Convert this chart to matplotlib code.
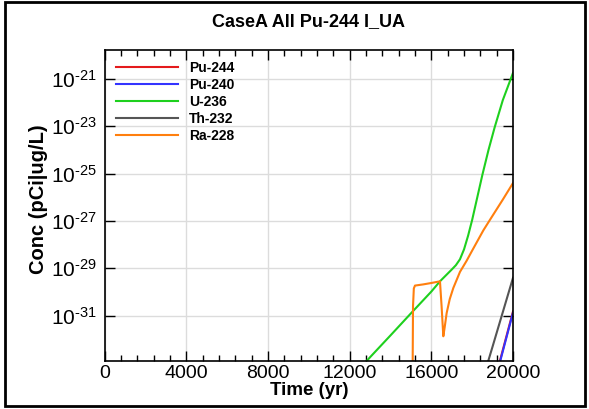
import math
import matplotlib
matplotlib.use('Agg')
import matplotlib.pyplot as plt
from matplotlib.ticker import FixedLocator, MultipleLocator, NullLocator, FuncFormatter
from matplotlib.patches import Rectangle

plt.rcParams['font.family'] = ['Liberation Sans', 'DejaVu Sans']
plt.rcParams['mathtext.fontset'] = 'custom'
plt.rcParams['mathtext.rm'] = 'Liberation Sans'
plt.rcParams['mathtext.it'] = 'Liberation Sans:italic'
plt.rcParams['mathtext.bf'] = 'Liberation Sans:bold'

# data (time in yr, log10 of concentration)
pu244_t = [19330, 20000]
pu244_log = [-33.0, -30.82]
pu240_t = [19363, 20000]
pu240_log = [-32.95, -30.87]
u236_t = [12000, 13000, 14000, 15000, 16000, 16421, 17000, 17200, 17400, 17600,
          17800, 18000, 18250, 18500, 18800, 19100, 19500, 20000]
u236_log = [-33.7, -32.75, -31.83, -30.9, -29.98, -29.55, -29.05, -28.87, -28.62, -28.2,
            -27.62, -26.95, -26.0, -25.05, -24.0, -23.05, -21.9, -20.75]
th232_t = [18600, 19000, 19500, 20000]
th232_log = [-33.45, -32.3, -30.85, -29.4]
ra228_t = [15060, 15083, 15100, 15140, 15196, 15600, 16000, 16421, 16500, 16585, 16650,
           16748, 16900, 17075, 17402, 17728, 18000, 18545, 18873, 19500, 20000]
ra228_log = [-34.0, -33.0, -30.6, -29.85, -29.73, -29.68, -29.62, -29.55, -30.6, -31.87, -31.5,
             -30.89, -30.3, -29.83, -29.15, -28.68, -28.25, -27.4, -26.95, -26.1, -25.4]

labels = ['Pu-244', 'Pu-240', 'U-236', 'Th-232', 'Ra-228']
colors = ['#e41a1c', '#3333ff', '#1ed01e', '#555555', '#ff7f0e']
ytick_exp = [-31, -29, -27, -25, -23, -21]
xticks = [0, 4000, 8000, 12000, 16000, 20000]

fig = plt.figure(figsize=(5.89, 4.09), dpi=100)
ax = fig.add_axes([0.178, 0.117, 0.693, 0.761])

series = [(pu244_t, pu244_log), (pu240_t, pu240_log), (u236_t, u236_log),
          (th232_t, th232_log), (ra228_t, ra228_log)]
for (t, lg), lab, c in zip(series, labels, colors):
    ax.plot(t, [10.0 ** v for v in lg], color=c, lw=1.5, label=lab)

ax.set_yscale('log')
ax.set_xlim(0, 20000)
ax.set_ylim(10 ** -32.92, 10 ** -19.78)
ax.xaxis.set_major_locator(FixedLocator(xticks))
ax.xaxis.set_minor_locator(MultipleLocator(800))
ax.yaxis.set_major_locator(FixedLocator([10.0 ** e for e in ytick_exp]))
ax.yaxis.set_minor_locator(NullLocator())
ax.yaxis.set_major_formatter(FuncFormatter(
    lambda v, p: r'$10^{\text{-}%d}$' % abs(round(math.log10(v)))))
ax.tick_params(which='both', direction='in', top=True, right=True)
ax.tick_params(which='major', length=7, width=1)
ax.tick_params(axis='x', pad=3, labelsize=14)
ax.tick_params(axis='y', pad=6, labelsize=15)
ax.tick_params(which='minor', length=4, width=1)
ax.grid(True, which='major', color='#dcdcdc', lw=1)
ax.set_axisbelow(True)
for s in ax.spines.values():
    s.set_linewidth(1.2)

ax.set_title('CaseA All Pu-244 I_UA', fontsize=13, fontweight='bold', pad=17)
ax.set_xlabel('Time (yr)', fontsize=13.5, fontweight='bold', labelpad=0)
ax.set_ylabel('Conc (pCi|ug/L)', fontsize=14.5, fontweight='bold')
ax.yaxis.set_label_coords(-0.14, 0.52)

leg = ax.legend(loc='upper left', frameon=False, handlelength=4.5,
                prop={'weight': 'bold', 'size': 10}, labelspacing=0.22,
                borderaxespad=0.4, handletextpad=0.75)

fig.patches.append(Rectangle((0.0085, 0.007), 0.985, 0.988, transform=fig.transFigure,
                             fill=False, edgecolor='black', lw=2))

fig.savefig('out.png', dpi=100)
